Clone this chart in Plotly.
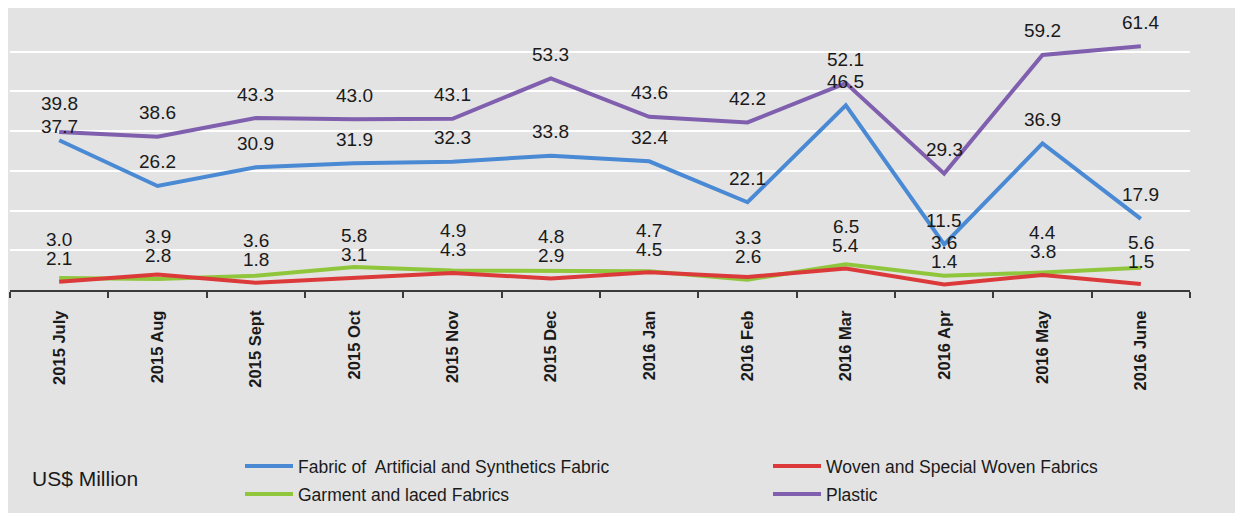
import plotly.graph_objects as go

months = ["2015 July", "2015 Aug", "2015 Sept", "2015 Oct", "2015 Nov", "2015 Dec",
          "2016 Jan", "2016 Feb", "2016 Mar", "2016 Apr", "2016 May", "2016 June"]
fabric = [37.7, 26.2, 30.9, 31.9, 32.3, 33.8, 32.4, 22.1, 46.5, 11.5, 36.9, 17.9]
woven = [2.1, 3.9, 1.8, 3.1, 4.3, 2.9, 4.5, 3.3, 5.4, 1.4, 3.8, 1.5]
garment = [3.0, 2.8, 3.6, 5.8, 4.9, 4.8, 4.7, 2.6, 6.5, 3.6, 4.4, 5.6]
plastic = [39.8, 38.6, 43.3, 43.0, 43.1, 53.3, 43.6, 42.2, 52.1, 29.3, 59.2, 61.4]

BG = "#e3e3e3"
FONT = "Liberation Sans, Arial, sans-serif"
TXT = "#1a1a1a"

W, H = 1235, 505  # page body has an 8px margin

fig = go.Figure()
series = [
    ("Fabric of  Artificial and Synthetics Fabric", fabric, "#4a8ad4", "legend"),
    ("Woven and Special Woven Fabrics", woven, "#dc3a3a", "legend2"),
    ("Garment and laced Fabrics", garment, "#8fc63c", "legend3"),
    ("Plastic", plastic, "#7f5fae", "legend4"),
]
# draw order: small series first, then fabric, then plastic
for name, vals, col, lg in [series[2], series[1], series[0], series[3]]:
    fig.add_trace(go.Scatter(x=months, y=vals, mode="lines", name=name,
                             line=dict(color=col, width=4), legend=lg,
                             hoverinfo="skip"))

annotations = []
shift_override = {("fabric", 0): 14, ("plastic", 0): 28}
for key, vals in (("fabric", fabric), ("plastic", plastic)):
    for i, v in enumerate(vals):
        annotations.append(dict(x=months[i], y=v, text=f"{v:.1f}", showarrow=False,
                                yshift=shift_override.get((key, i), 24),
                                font=dict(size=19, color=TXT, family=FONT)))
for i in range(len(months)):
    lo = min(woven[i], garment[i])
    hi = max(woven[i], garment[i])
    annotations.append(dict(x=months[i], y=lo, text=f"{lo:.1f}", showarrow=False,
                            yshift=23, font=dict(size=19, color=TXT, family=FONT)))
    annotations.append(dict(x=months[i], y=lo, text=f"{hi:.1f}", showarrow=False,
                            yshift=42, font=dict(size=19, color=TXT, family=FONT)))

annotations.append(dict(xref="paper", yref="paper", x=(30 - 10) / 1180, y=-(478 - 290) / 278,
                        xanchor="left", yanchor="middle", text="US$ Million", showarrow=False,
                        font=dict(size=21, color=TXT, family=FONT)))


def leg(xpx, ypx):
    return dict(orientation="h", xref="container", yref="container",
                x=(xpx - 8) / W, xanchor="left", y=1 - (ypx - 8) / H, yanchor="middle",
                bgcolor="rgba(0,0,0,0)", font=dict(size=17.5, color=TXT, family=FONT),
                itemwidth=48)


fig.update_layout(
    width=W, height=H,
    margin=dict(l=2, r=53, t=4, b=223),
    paper_bgcolor=BG, plot_bgcolor=BG,
    font=dict(family=FONT, color=TXT),
    showlegend=True,
    annotations=annotations,
    legend=leg(240, 466),
    legend2=leg(768, 466),
    legend3=leg(240, 494),
    legend4=leg(768, 494),
)
fig.update_xaxes(type="category", categoryorder="array", categoryarray=months,
                 range=[-0.5, 11.5],
                 showline=True, linecolor="#3a3a3a", linewidth=2,
                 ticks="outside", tickson="boundaries", ticklen=6, tickcolor="#3a3a3a", tickwidth=2,
                 tickangle=-90, ticklabelstandoff=12,
                 tickfont=dict(size=16.5, color=TXT, family="Liberation Sans, Arial", weight="bold"),
                 showgrid=False)
fig.update_yaxes(range=[0, 70], tickvals=[0, 10, 20, 30, 40, 50, 60], showticklabels=False,
                 showgrid=True, gridcolor="white", gridwidth=2, zeroline=False, ticks="")

fig.write_html("out.html")
